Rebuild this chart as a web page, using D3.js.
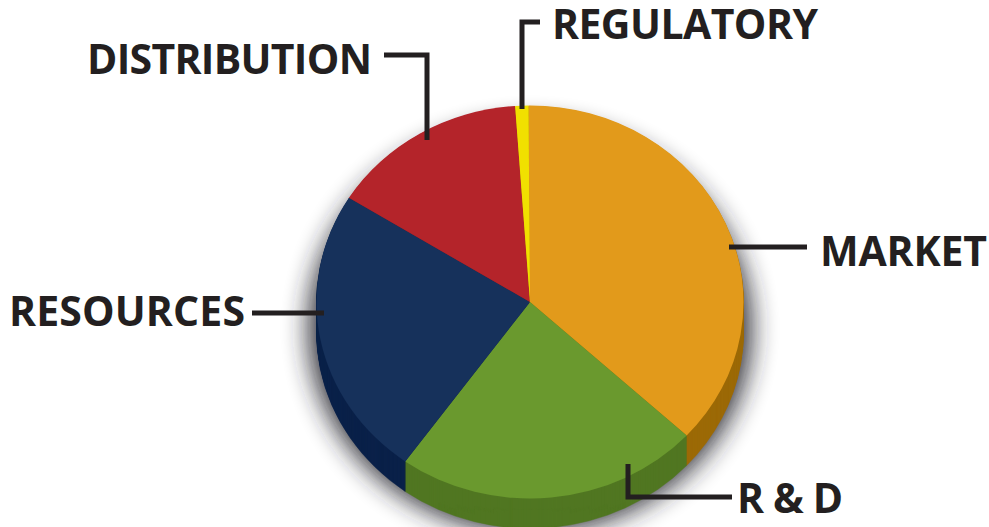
<!DOCTYPE html>
<html>
<head>
<meta charset="utf-8">
<script src="https://cdn.jsdelivr.net/npm/d3@7"></script>
<style>
    html, body { margin: 0; padding: 0; background: #fff; overflow: hidden; }
    svg { display: block; }
    text { font-family: "Open Sans", sans-serif; font-weight: 700; fill: #231f20; }
</style>
</head>
<body>
<svg class="pie-chart" width="989" height="527"></svg>
<script>
// values, clockwise from the top
const categories = ["MARKET", "R & D", "RESOURCES", "DISTRIBUTION", "REGULATORY"];
const shares = [37, 23.05, 23.95, 15, 1];
const topColors = ["#e29a1b", "#6a992e", "#16315b", "#b4242a", "#f1e000"];
const wallColors = ["#9c6a07", "#517722", "#0a2149", "#8a1a20", "#b5a800"];

// label placement, same order as categories
const labelX = [820, 737, 9, 87, 552];
const labelY = [266, 513, 326, 74, 39];
const labelWidth = [167, 106, 236, 285, 266];
const leaderLines = [
    [[729, 247], [807, 247]],
    [[628, 464], [628, 497], [732, 497]],
    [[252, 313], [324, 313]],
    [[384, 55], [427, 55], [427, 140]],
    [[540, 22], [522, 22], [522, 109]]
];

const cx = 530, cy = 302, rx = 213.5, ry = 196.5, depth = 30;

const svg = d3.select("svg.pie-chart");

const blur = svg.append("defs").append("filter")
    .attr("id", "soft-shadow")
    .attr("x", "-20%").attr("y", "-20%")
    .attr("width", "140%").attr("height", "140%");
blur.append("feGaussianBlur").attr("stdDeviation", 13);

const startAngle = -0.4 * Math.PI / 180;
const pie = d3.pie()
    .sort(null)
    .startAngle(startAngle)
    .endAngle(startAngle + 2 * Math.PI);
const slices = pie(shares);
const arc = d3.arc().innerRadius(0).outerRadius(rx);

// drop shadow under the whole pie
svg.append("ellipse")
    .attr("cx", cx)
    .attr("cy", cy + depth - 4)
    .attr("rx", rx + 8)
    .attr("ry", ry + 8)
    .style("fill", "#26262e")
    .style("opacity", 0.95)
    .attr("filter", "url(#soft-shadow)");

// side wall: stack the darker pie from the bottom up
d3.range(depth, 0, -1).forEach(offset => {
    svg.append("g")
        .attr("transform", `translate(${cx}, ${cy + offset}) scale(1, ${ry / rx})`)
        .selectAll("path")
        .data(slices)
        .enter()
        .append("path")
        .attr("d", arc)
        .style("fill", (d, i) => wallColors[i])
        .style("stroke", (d, i) => wallColors[i])
        .style("stroke-width", 0.5);
});

// top face
svg.append("g")
    .attr("transform", `translate(${cx}, ${cy}) scale(1, ${ry / rx})`)
    .selectAll("path")
    .data(slices)
    .enter()
    .append("path")
    .attr("d", arc)
    .style("fill", (d, i) => topColors[i]);

const line = d3.line();
svg.selectAll("path.leader")
    .data(leaderLines)
    .enter()
    .append("path")
    .attr("class", "leader")
    .attr("d", line)
    .style("fill", "none")
    .style("stroke", "#231f20")
    .style("stroke-width", 5);

svg.selectAll("text.label")
    .data(categories)
    .enter()
    .append("text")
    .attr("class", "label")
    .attr("x", (d, i) => labelX[i])
    .attr("y", (d, i) => labelY[i])
    .attr("textLength", (d, i) => labelWidth[i])
    .attr("lengthAdjust", "spacing")
    .style("font-size", "41px")
    .text(d => d);
</script>
</body>
</html>
